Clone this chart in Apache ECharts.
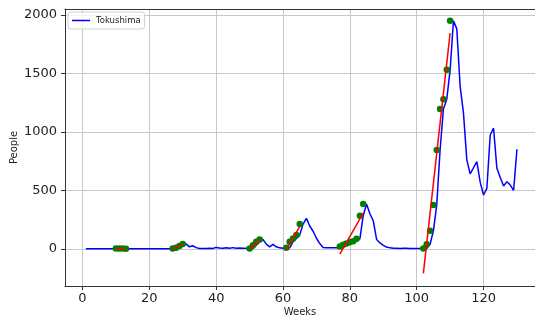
<!DOCTYPE html>
<html>
<head>
<meta charset="utf-8">
<script src="https://cdn.jsdelivr.net/npm/echarts@6/dist/echarts.min.js"></script>
<style>
html,body{margin:0;padding:0;background:#fff;}
#chart{width:535px;height:320px;}
</style>
</head>
<body>
<div id="chart"></div>
<script>
// Blue series: weekly values, weeks 1..130
const seriesName = 'Tokushima';
const firstWeek = 1;
const blueValues = [
  0,0,0,0,0,0,0,0,0,0,
  3,2,3,1,
  0,0,0,0,0,0,0,0,0,0,0,0,0,
  2,10,25,42,17,26,10,3,
  2,3,5,2,12,6,4,8,5,10,4,6,5,4,5,
  3,30,60,80,40,17,38,17,8,5,
  3,8,60,89,117,211,260,195,150,90,
  45,12,8,10,8,10,12,20,35,45,
  55,65,85,283,383,300,240,80,50,30,
  15,8,5,5,3,5,5,3,3,3,
  3,2,3,38,154,374,845,1196,1279,1530,
  1950,1880,1390,1160,760,640,693,745,570,460,
  517,973,1031,688,610,537,574,545,500,851
];
// Green points
const dotWeeks  = [10,11,12,13, 27,28,29,30, 50,51,52,53, 61,62,63,64,65, 77,78,79,80,81,82,83,84, 102,103,104,105,106,107,108,109,110];
const dotValues = [3,2,3,1, 2,10,25,42, 3,30,60,80, 8,60,89,117,211, 20,35,45,55,65,85,283,383, 3,38,154,374,845,1196,1279,1530,1950];
// Red fit lines (start/end)
const fitX0 = [10, 27, 50, 61, 77, 102];
const fitY0 = [3, 0, -3, -5, -45, -210];
const fitX1 = [13, 30, 53, 65, 84, 110];
const fitY1 = [1, 40, 80, 190, 305, 1844];
// Axis ticks
const xTicks = [0, 20, 40, 60, 80, 100, 120];
const yTicks = [0, 500, 1000, 1500, 2000];

const FONT = 'DejaVu Sans';
const blueData = blueValues.map((v, i) => [firstWeek + i, v]);
const dotData = dotWeeks.map((w, i) => [w, dotValues[i]]);

const series = [{
  name: seriesName, type: 'line', data: blueData, symbol: 'none',
  lineStyle: {color: '#0000ff', width: 1.5}, itemStyle: {color: '#0000ff'}, z: 2, animation: false
}, {
  name: 'dots', type: 'scatter', data: dotData, symbolSize: 6.5,
  itemStyle: {color: '#008000', opacity: 1}, z: 3, animation: false
}];
fitX0.forEach((x0, i) => {
  series.push({
    name: 'fit' + i, type: 'line', symbol: 'none',
    data: [[x0, fitY0[i]], [fitX1[i], fitY1[i]]],
    lineStyle: {color: '#ff0000', width: 1.5}, z: 4, animation: false
  });
});

const chart = echarts.init(document.getElementById('chart'), null, {renderer: 'canvas'});
chart.setOption({
  animation: false,
  backgroundColor: '#ffffff',
  textStyle: {fontFamily: FONT},
  grid: {left: 65, right: 0, top: 9, bottom: 34, containLabel: false, outerBoundsMode: 'none'},
  legend: {
    data: [{name: seriesName, icon: 'rect'}],
    left: 68, top: 12, itemWidth: 18, itemHeight: 1.5, itemGap: 6,
    padding: [4, 4, 4, 4],
    backgroundColor: 'rgba(255,255,255,0.8)', borderColor: '#d0d0d0', borderWidth: 1, borderRadius: 3,
    textStyle: {fontFamily: FONT, fontSize: 8.5, color: '#222', padding: [0, 0, 0, 1]}
  },
  xAxis: [{
    type: 'value', min: -5.23, max: 135.4, position: 'bottom',
    name: 'Weeks', nameLocation: 'middle', nameGap: 21, nameMoveOverlap: false,
    nameTextStyle: {fontFamily: FONT, fontSize: 10, color: '#222'},
    axisLine: {show: true, onZero: false, lineStyle: {color: '#333', width: 1}},
    axisTick: {show: true, length: 4, lineStyle: {color: '#333'}, customValues: xTicks},
    axisLabel: {customValues: xTicks, fontFamily: FONT, fontSize: 13, color: '#222', margin: 6,
      formatter: v => String(v)},
    splitLine: {show: true, lineStyle: {color: '#c8c8c8', width: 1}}
  }, {
    type: 'value', min: -5.23, max: 135.4, position: 'top',
    axisLine: {show: true, onZero: false, lineStyle: {color: '#333', width: 1}},
    axisTick: {show: false}, axisLabel: {show: false}, splitLine: {show: false}
  }],
  yAxis: {
    type: 'value', min: -318, max: 2050,
    name: 'People', nameLocation: 'middle', nameGap: 46, nameMoveOverlap: false,
    nameTextStyle: {fontFamily: FONT, fontSize: 10, color: '#222'},
    axisLine: {show: true, onZero: false, lineStyle: {color: '#333', width: 1}},
    axisTick: {show: true, length: 4, lineStyle: {color: '#333'}, customValues: yTicks},
    axisLabel: {customValues: yTicks, fontFamily: FONT, fontSize: 13, color: '#222', margin: 8,
      formatter: v => String(v)},
    splitLine: {show: true, lineStyle: {color: '#c8c8c8', width: 1}}
  },
  series: series
});
</script>
</body>
</html>
